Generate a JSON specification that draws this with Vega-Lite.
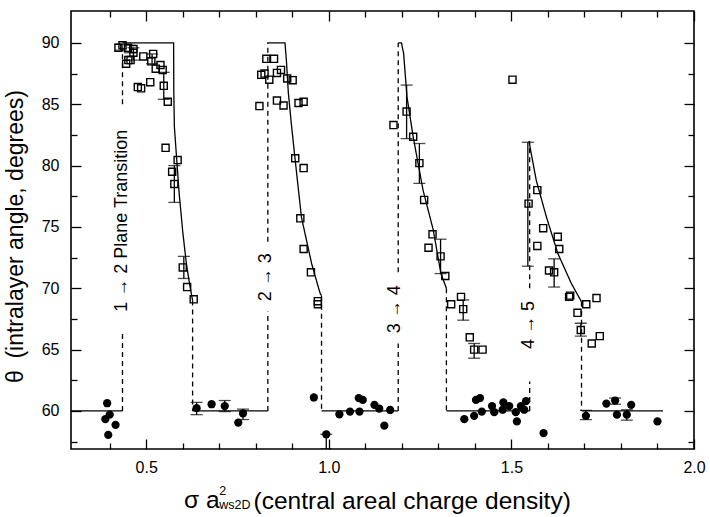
{
  "$schema": "https://vega.github.io/schema/vega-lite/v6.json",
  "width": 623,
  "height": 438,
  "autosize": {"type": "none"},
  "padding": {"left": 71, "top": 11, "right": 16, "bottom": 68},
  "background": "white",
  "config": {
    "view": {"stroke": "black", "strokeWidth": 1.6},
    "axis": {"domain": false, "grid": false, "labelFont": "Liberation Sans", "titleFont": "Liberation Sans", "labelColor": "black", "titleColor": "black", "tickColor": "black", "tickWidth": 1.3, "labelFontSize": 16, "titleFontSize": 23, "titleFontWeight": "normal"},
    "text": {"font": "Liberation Sans", "color": "black"}
  },
  "datasets": {
    "theory": [
      {"seg": "s0", "kind": "solid", "x": 0.294, "y": 60}, {"seg": "s0", "kind": "solid", "x": 0.435, "y": 60},
      {"seg": "d1a", "kind": "dashed", "x": 0.435, "y": 60}, {"seg": "d1a", "kind": "dashed", "x": 0.435, "y": 66.6},
      {"seg": "d1b", "kind": "dashed", "x": 0.435, "y": 85}, {"seg": "d1b", "kind": "dashed", "x": 0.435, "y": 89.6},
      {"seg": "s1", "kind": "solid", "x": 0.435, "y": 90}, {"seg": "s1", "kind": "solid", "x": 0.575, "y": 90}, {"seg": "s1", "kind": "solid", "x": 0.5755, "y": 86}, {"seg": "s1", "kind": "solid", "x": 0.577, "y": 83.2}, {"seg": "s1", "kind": "solid", "x": 0.583, "y": 80.7}, {"seg": "s1", "kind": "solid", "x": 0.59, "y": 77.8}, {"seg": "s1", "kind": "solid", "x": 0.6, "y": 74.6}, {"seg": "s1", "kind": "solid", "x": 0.61, "y": 72}, {"seg": "s1", "kind": "solid", "x": 0.619, "y": 70.3}, {"seg": "s1", "kind": "solid", "x": 0.627, "y": 69.0},
      {"seg": "d2", "kind": "dashed", "x": 0.627, "y": 69.0}, {"seg": "d2", "kind": "dashed", "x": 0.627, "y": 60},
      {"seg": "s2", "kind": "solid", "x": 0.627, "y": 60}, {"seg": "s2", "kind": "solid", "x": 0.833, "y": 60},
      {"seg": "d3a", "kind": "dashed", "x": 0.833, "y": 60}, {"seg": "d3a", "kind": "dashed", "x": 0.833, "y": 68.1},
      {"seg": "d3b", "kind": "dashed", "x": 0.833, "y": 73.8}, {"seg": "d3b", "kind": "dashed", "x": 0.833, "y": 90},
      {"seg": "s3", "kind": "solid", "x": 0.831, "y": 90}, {"seg": "s3", "kind": "solid", "x": 0.88, "y": 90}, {"seg": "s3", "kind": "solid", "x": 0.884, "y": 88.5}, {"seg": "s3", "kind": "solid", "x": 0.889, "y": 86}, {"seg": "s3", "kind": "solid", "x": 0.897, "y": 83.5}, {"seg": "s3", "kind": "solid", "x": 0.907, "y": 80.7}, {"seg": "s3", "kind": "solid", "x": 0.925, "y": 75.8}, {"seg": "s3", "kind": "solid", "x": 0.953, "y": 72.0}, {"seg": "s3", "kind": "solid", "x": 0.976, "y": 69.6}, {"seg": "s3", "kind": "solid", "x": 0.98, "y": 69.4},
      {"seg": "d4", "kind": "dashed", "x": 0.98, "y": 69.4}, {"seg": "d4", "kind": "dashed", "x": 0.98, "y": 60},
      {"seg": "s4", "kind": "solid", "x": 0.98, "y": 60}, {"seg": "s4", "kind": "solid", "x": 1.19, "y": 60},
      {"seg": "d5a", "kind": "dashed", "x": 1.19, "y": 60}, {"seg": "d5a", "kind": "dashed", "x": 1.19, "y": 65.5},
      {"seg": "d5b", "kind": "dashed", "x": 1.19, "y": 71.3}, {"seg": "d5b", "kind": "dashed", "x": 1.19, "y": 90},
      {"seg": "s5", "kind": "solid", "x": 1.19, "y": 90}, {"seg": "s5", "kind": "solid", "x": 1.199, "y": 90}, {"seg": "s5", "kind": "solid", "x": 1.205, "y": 89.1}, {"seg": "s5", "kind": "solid", "x": 1.214, "y": 85.6}, {"seg": "s5", "kind": "solid", "x": 1.231, "y": 82.35}, {"seg": "s5", "kind": "solid", "x": 1.258, "y": 78.0}, {"seg": "s5", "kind": "solid", "x": 1.286, "y": 74.75}, {"seg": "s5", "kind": "solid", "x": 1.307, "y": 71.2}, {"seg": "s5", "kind": "solid", "x": 1.322, "y": 70.0},
      {"seg": "d6", "kind": "dashed", "x": 1.322, "y": 70.0}, {"seg": "d6", "kind": "dashed", "x": 1.322, "y": 60},
      {"seg": "s6", "kind": "solid", "x": 1.322, "y": 60}, {"seg": "s6", "kind": "solid", "x": 1.55, "y": 60},
      {"seg": "d7a", "kind": "dashed", "x": 1.55, "y": 60}, {"seg": "d7a", "kind": "dashed", "x": 1.55, "y": 62.4},
      {"seg": "d7b", "kind": "dashed", "x": 1.55, "y": 70.0}, {"seg": "d7b", "kind": "dashed", "x": 1.55, "y": 82},
      {"seg": "s7", "kind": "solid", "x": 1.548, "y": 82}, {"seg": "s7", "kind": "solid", "x": 1.568, "y": 78.8}, {"seg": "s7", "kind": "solid", "x": 1.596, "y": 75.8}, {"seg": "s7", "kind": "solid", "x": 1.627, "y": 72.85}, {"seg": "s7", "kind": "solid", "x": 1.664, "y": 70.4}, {"seg": "s7", "kind": "solid", "x": 1.692, "y": 68.9},
      {"seg": "d8", "kind": "dashed", "x": 1.692, "y": 68.9}, {"seg": "d8", "kind": "dashed", "x": 1.692, "y": 60},
      {"seg": "s8", "kind": "solid", "x": 1.692, "y": 60}, {"seg": "s8", "kind": "solid", "x": 1.915, "y": 60}
    ],
    "squares": [
      {"x": 0.424, "y": 89.6}, {"x": 0.435, "y": 89.8}, {"x": 0.445, "y": 88.3}, {"x": 0.451, "y": 88.6}, {"x": 0.457, "y": 88.6}, {"x": 0.465, "y": 89.2}, {"x": 0.465, "y": 89.5}, {"x": 0.45, "y": 89.6},
      {"x": 0.492, "y": 88.9}, {"x": 0.519, "y": 89.1}, {"x": 0.514, "y": 88.5}, {"x": 0.526, "y": 87.9}, {"x": 0.539, "y": 88.2}, {"x": 0.545, "y": 87.8}, {"x": 0.477, "y": 86.4}, {"x": 0.486, "y": 86.3}, {"x": 0.511, "y": 86.8}, {"x": 0.548, "y": 86.5}, {"x": 0.559, "y": 85.2},
      {"x": 0.553, "y": 81.45}, {"x": 0.586, "y": 80.45}, {"x": 0.571, "y": 79.5}, {"x": 0.577, "y": 78.5}, {"x": 0.6, "y": 71.7}, {"x": 0.612, "y": 70.1}, {"x": 0.63, "y": 69.1},
      {"x": 0.829, "y": 88.7}, {"x": 0.85, "y": 88.7}, {"x": 0.815, "y": 87.4}, {"x": 0.824, "y": 87.5}, {"x": 0.837, "y": 87.0}, {"x": 0.858, "y": 87.55}, {"x": 0.869, "y": 87.8}, {"x": 0.81, "y": 84.85}, {"x": 0.858, "y": 85.3}, {"x": 0.876, "y": 84.9}, {"x": 0.886, "y": 87.1}, {"x": 0.901, "y": 86.96}, {"x": 0.917, "y": 85.1}, {"x": 0.931, "y": 85.2}, {"x": 0.908, "y": 80.6}, {"x": 0.931, "y": 79.8}, {"x": 0.922, "y": 75.7}, {"x": 0.931, "y": 73.2}, {"x": 0.951, "y": 71.3}, {"x": 0.97, "y": 68.95}, {"x": 0.97, "y": 68.7},
      {"x": 1.213, "y": 84.4}, {"x": 1.177, "y": 83.3}, {"x": 1.231, "y": 82.35}, {"x": 1.248, "y": 80.2}, {"x": 1.261, "y": 77.2}, {"x": 1.284, "y": 74.4}, {"x": 1.273, "y": 73.3}, {"x": 1.306, "y": 72.6}, {"x": 1.319, "y": 71.0}, {"x": 1.335, "y": 68.7}, {"x": 1.362, "y": 69.3}, {"x": 1.368, "y": 68.3}, {"x": 1.386, "y": 66.0}, {"x": 1.398, "y": 65.0}, {"x": 1.421, "y": 65.0},
      {"x": 1.503, "y": 87.0}, {"x": 1.571, "y": 78.0}, {"x": 1.547, "y": 76.9}, {"x": 1.587, "y": 74.9}, {"x": 1.627, "y": 74.2}, {"x": 1.571, "y": 73.45}, {"x": 1.631, "y": 73.2}, {"x": 1.603, "y": 71.45}, {"x": 1.617, "y": 71.3}, {"x": 1.658, "y": 69.3}, {"x": 1.661, "y": 69.4}, {"x": 1.705, "y": 68.7}, {"x": 1.733, "y": 69.2}, {"x": 1.681, "y": 68.0}, {"x": 1.69, "y": 66.6}, {"x": 1.72, "y": 65.5}, {"x": 1.742, "y": 66.1}
    ],
    "circles": [
      {"x": 0.393, "y": 60.63}, {"x": 0.4, "y": 59.7}, {"x": 0.388, "y": 59.33}, {"x": 0.416, "y": 58.87}, {"x": 0.396, "y": 58.05},
      {"x": 0.638, "y": 60.23}, {"x": 0.679, "y": 60.55}, {"x": 0.715, "y": 60.4}, {"x": 0.765, "y": 59.8}, {"x": 0.752, "y": 59.05},
      {"x": 0.959, "y": 61.1}, {"x": 0.993, "y": 58.1},
      {"x": 1.029, "y": 59.73}, {"x": 1.058, "y": 59.95}, {"x": 1.084, "y": 59.95}, {"x": 1.082, "y": 61.05}, {"x": 1.093, "y": 60.9}, {"x": 1.125, "y": 60.5}, {"x": 1.138, "y": 60.2}, {"x": 1.152, "y": 58.8}, {"x": 1.168, "y": 60.08},
      {"x": 1.371, "y": 59.33}, {"x": 1.398, "y": 59.6}, {"x": 1.403, "y": 60.9}, {"x": 1.414, "y": 61.05}, {"x": 1.419, "y": 59.95}, {"x": 1.447, "y": 60.4}, {"x": 1.453, "y": 59.9}, {"x": 1.478, "y": 60.7}, {"x": 1.476, "y": 60.1}, {"x": 1.494, "y": 60.4}, {"x": 1.512, "y": 59.9}, {"x": 1.515, "y": 59.15}, {"x": 1.526, "y": 60.4}, {"x": 1.54, "y": 60.8}, {"x": 1.535, "y": 60.1},
      {"x": 1.588, "y": 58.2},
      {"x": 1.704, "y": 59.6}, {"x": 1.76, "y": 60.6}, {"x": 1.784, "y": 60.85}, {"x": 1.789, "y": 59.7}, {"x": 1.816, "y": 59.7}, {"x": 1.828, "y": 60.5}, {"x": 1.9, "y": 59.15}
    ],
    "errorbars": [
      {"x": 0.43, "lo": 89.4, "hi": 89.9}, {"x": 0.455, "lo": 89.2, "hi": 89.8}, {"x": 0.465, "lo": 88.6, "hi": 89.6}, {"x": 0.516, "lo": 88.3, "hi": 89.1},
      {"x": 0.548, "lo": 85.4, "hi": 87.6}, {"x": 0.577, "lo": 77.0, "hi": 80.0}, {"x": 0.603, "lo": 70.8, "hi": 72.6},
      {"x": 1.213, "lo": 82.2, "hi": 86.56}, {"x": 1.248, "lo": 78.55, "hi": 81.8}, {"x": 1.306, "lo": 71.2, "hi": 74.0}, {"x": 1.368, "lo": 67.4, "hi": 69.05}, {"x": 1.398, "lo": 64.3, "hi": 65.5},
      {"x": 1.545, "lo": 71.8, "hi": 81.9}, {"x": 1.617, "lo": 70.1, "hi": 72.4}, {"x": 1.69, "lo": 66.1, "hi": 67.15},
      {"x": 0.638, "lo": 59.7, "hi": 60.7}, {"x": 0.715, "lo": 59.95, "hi": 60.85}, {"x": 0.765, "lo": 59.3, "hi": 60.15}, {"x": 0.993, "lo": 56.9, "hi": 58.1},
      {"x": 1.704, "lo": 59.3, "hi": 60.05}, {"x": 1.784, "lo": 60.55, "hi": 61.05}, {"x": 1.816, "lo": 59.25, "hi": 60.1}
    ],
    "annotations": [
      {"x": 0.433, "y": 75.5, "label": "1 → 2 Plane Transition"},
      {"x": 0.828, "y": 70.9, "label": "2 → 3"},
      {"x": 1.18, "y": 68.3, "label": "3 → 4"},
      {"x": 1.547, "y": 67.0, "label": "4 → 5"}
    ],
    "titlehead": [
      {"x": 0.6034, "y": 52.1, "label": "σ a"}
    ],
    "scripts": [
      {"x": 0.7, "y": 53.45, "label": "2"},
      {"x": 0.7, "y": 52.3, "label": "ws2D"}
    ]
  },
  "resolve": {"axis": {"x": "independent", "y": "independent"}},
  "layer": [
    {
      "data": {"name": "theory"},
      "mark": {"type": "line", "color": "black", "strokeWidth": 1.3, "clip": true},
      "encoding": {
        "x": {"field": "x", "type": "quantitative", "scale": {"domain": [0.294, 2.0], "nice": false, "zero": false},
          "axis": {"orient": "bottom", "values": [0.5, 1.0, 1.5, 2.0], "format": ".1f", "ticks": false, "labelPadding": 23, "labelBaseline": "alphabetic", "labelFlush": false, "labelOverlap": false, "labelBound": false,
            "title": "(central areal charge density)", "titleFontSize": 24.5, "titleAlign": "left", "titleX": 182, "titleY": 59, "titleBaseline": "alphabetic", "titleAnchor": "start"}},
        "y": {"field": "y", "type": "quantitative", "scale": {"domain": [56.9, 92.6], "nice": false, "zero": false},
          "axis": {"orient": "left", "values": [60, 65, 70, 75, 80, 85, 90], "ticks": false, "labelPadding": 12, "labelFlush": false, "labelOverlap": false,
            "title": "θ\u2002(intralayer angle, degrees)", "titleFontSize": 23, "titleX": -49, "titleY": 225, "titleBaseline": "alphabetic", "titleAlign": "center"}},
        "detail": {"field": "seg"},
        "strokeDash": {"field": "kind", "type": "nominal", "scale": {"domain": ["solid", "dashed"], "range": [[1, 0], [5, 4]]}, "legend": null}
      }
    },
    {
      "data": {"name": "errorbars"},
      "mark": {"type": "rule", "color": "black", "strokeWidth": 1.3, "clip": true},
      "encoding": {
        "x": {"field": "x", "type": "quantitative",
          "axis": {"orient": "bottom", "values": [0.4, 0.5, 0.6, 0.7, 0.8, 0.9, 1.0, 1.1, 1.2, 1.3, 1.4, 1.5, 1.6, 1.7, 1.8, 1.9, 2.0], "labels": false, "title": null,
            "tickSize": {"condition": {"test": "abs(datum.value*2 - round(datum.value*2)) < 0.01", "value": -10}, "value": -6}}},
        "y": {"field": "lo", "type": "quantitative",
          "axis": {"orient": "left", "values": [57.5, 60, 62.5, 65, 67.5, 70, 72.5, 75, 77.5, 80, 82.5, 85, 87.5, 90], "labels": false, "title": null,
            "tickSize": {"condition": {"test": "abs(datum.value/5 - round(datum.value/5)) < 0.01", "value": -10}, "value": -6}}},
        "y2": {"field": "hi"}
      }
    },
    {
      "data": {"name": "squares"},
      "mark": {"type": "point", "shape": "square", "filled": false, "color": "black", "strokeWidth": 1.4, "size": 50, "opacity": 1},
      "encoding": {
        "x": {"field": "x", "type": "quantitative",
          "axis": {"orient": "top", "values": [0.4, 0.5, 0.6, 0.7, 0.8, 0.9, 1.0, 1.1, 1.2, 1.3, 1.4, 1.5, 1.6, 1.7, 1.8, 1.9, 2.0], "labels": false, "title": null,
            "tickSize": {"condition": {"test": "abs(datum.value*2 - round(datum.value*2)) < 0.01", "value": -10}, "value": -6}}},
        "y": {"field": "y", "type": "quantitative",
          "axis": {"orient": "right", "values": [57.5, 60, 62.5, 65, 67.5, 70, 72.5, 75, 77.5, 80, 82.5, 85, 87.5, 90], "labels": false, "title": null,
            "tickSize": {"condition": {"test": "abs(datum.value/5 - round(datum.value/5)) < 0.01", "value": -10}, "value": -6}}}
      }
    },
    {
      "data": {"name": "circles"},
      "mark": {"type": "point", "shape": "circle", "filled": true, "color": "black", "size": 68, "opacity": 1},
      "encoding": {
        "x": {"field": "x", "type": "quantitative", "axis": null},
        "y": {"field": "y", "type": "quantitative", "axis": null}
      }
    },
    {
      "data": {"name": "errorbars"},
      "transform": [{"fold": ["lo", "hi"], "as": ["end", "v"]}],
      "mark": {"type": "tick", "orient": "horizontal", "color": "black", "thickness": 1.3, "size": 12, "clip": true},
      "encoding": {
        "x": {"field": "x", "type": "quantitative", "axis": null},
        "y": {"field": "v", "type": "quantitative", "axis": null}
      }
    },
    {
      "data": {"name": "annotations"},
      "mark": {"type": "text", "angle": 270, "fontSize": 18, "align": "center", "baseline": "middle", "font": "Liberation Sans", "color": "black"},
      "encoding": {
        "x": {"field": "x", "type": "quantitative", "axis": null},
        "y": {"field": "y", "type": "quantitative", "axis": null},
        "text": {"field": "label"}
      }
    },
    {
      "data": {"name": "titlehead"},
      "mark": {"type": "text", "fontSize": 24.5, "align": "left", "baseline": "alphabetic", "font": "Liberation Sans", "color": "black"},
      "encoding": {
        "x": {"field": "x", "type": "quantitative", "axis": null},
        "y": {"field": "y", "type": "quantitative", "axis": null},
        "text": {"field": "label"}
      }
    },
    {
      "data": {"name": "scripts"},
      "mark": {"type": "text", "fontSize": 12.5, "align": "left", "baseline": "middle", "font": "Liberation Sans", "color": "black"},
      "encoding": {
        "x": {"field": "x", "type": "quantitative", "axis": null},
        "y": {"field": "y", "type": "quantitative", "axis": null},
        "text": {"field": "label"}
      }
    }
  ]
}
